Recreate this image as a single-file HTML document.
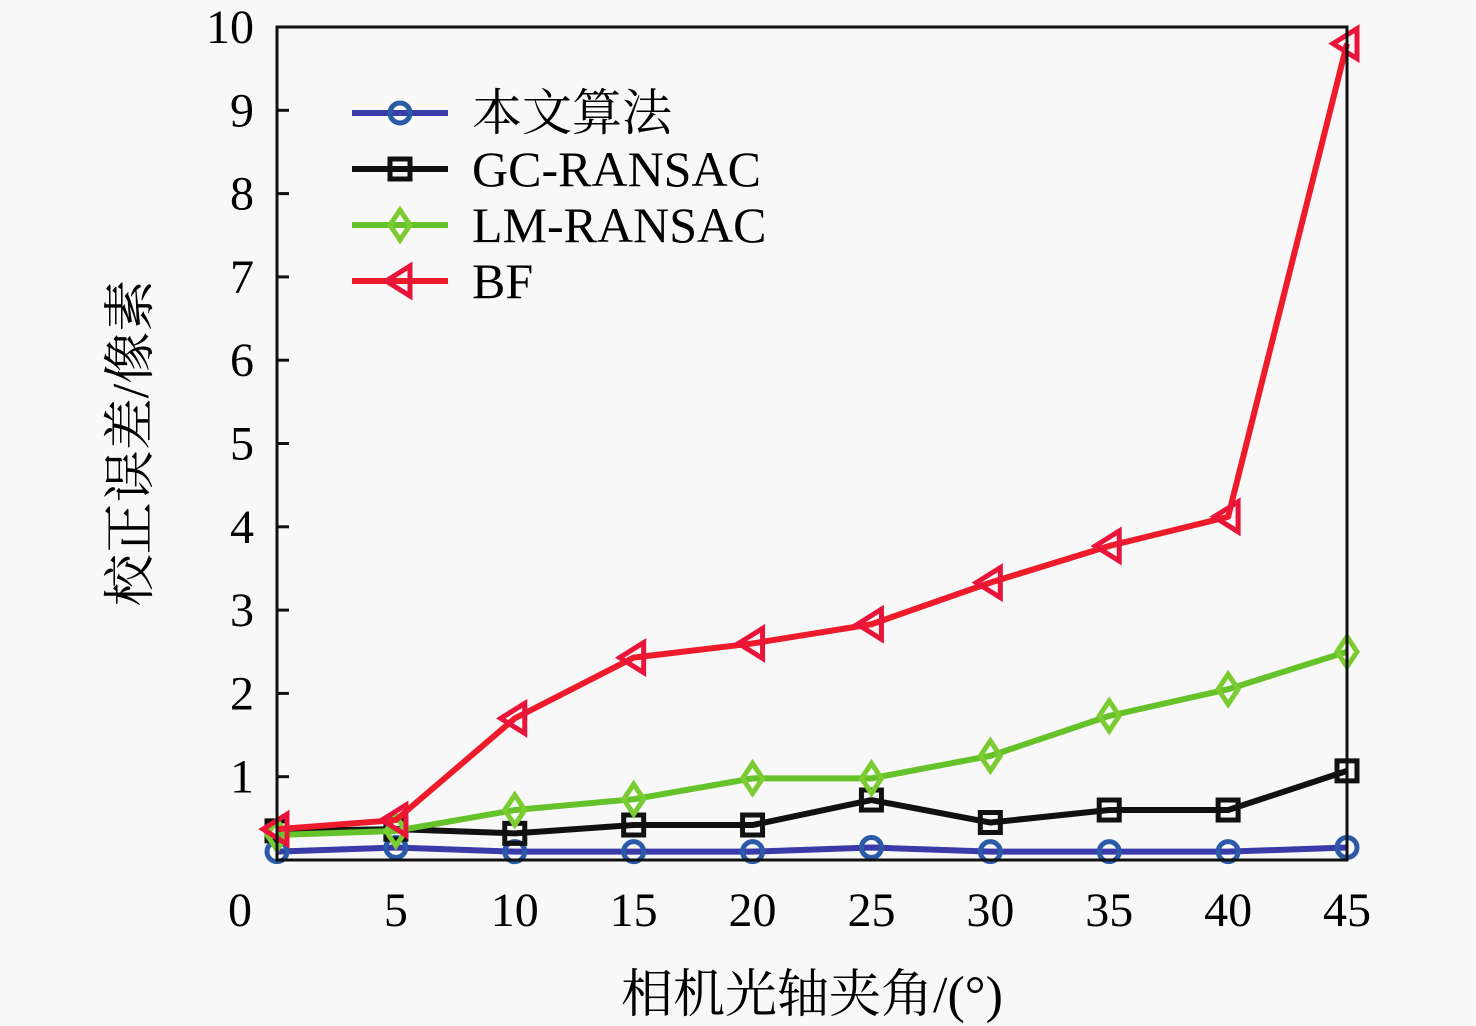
<!DOCTYPE html>
<html><head><meta charset="utf-8"><style>
html,body{margin:0;padding:0;background:#f8f8f8;}
svg{display:block;font-family:"Liberation Serif","Noto Serif CJK SC",serif;}
</style></head><body>
<svg id="chart" width="1476" height="1026" viewBox="0 0 1476 1026">
<rect x="0" y="0" width="1476" height="1026" fill="#f8f8f8"/>
<g id="series"></g>
<rect x="277" y="27" width="1070" height="833" fill="none" stroke="#111" stroke-width="3"/>
<g id="axes"></g>
<text x="240" y="926" font-size="48" text-anchor="middle">0</text>
<text x="812" y="1012" font-size="52" text-anchor="middle">相机光轴夹角/(°)</text>
<text transform="translate(148,443) rotate(-90)" font-size="52" text-anchor="middle">校正误差/像素</text>
<g id="legend"></g>
</svg>
<script>
const categories = [0,5,10,15,20,25,30,35,40,45];
const seriesNames = ["本文算法","GC-RANSAC","LM-RANSAC","BF"];
const oursValues = [0.1,0.15,0.1,0.1,0.1,0.15,0.1,0.1,0.1,0.15];
const gcValues = [0.35,0.37,0.32,0.42,0.42,0.72,0.45,0.6,0.6,1.07];
const lmValues = [0.3,0.35,0.6,0.73,0.98,0.98,1.25,1.73,2.05,2.5];
const bfValues = [0.37,0.48,1.7,2.43,2.6,2.83,3.33,3.77,4.12,9.8];
const yTicks = [1,2,3,4,5,6,7,8,9,10];
const xTicks = [5,10,15,20,25,30,35,40,45];

const NS="http://www.w3.org/2000/svg";
const X0=277,X1=1347,Y0=860,Y1=27;
const xs=v=>X0+(v-0)/(45-0)*(X1-X0);
const ys=v=>Y0-(v/10)*(Y0-Y1);
function mk(tag,attrs,parent){const e=document.createElementNS(NS,tag);for(const k in attrs)e.setAttribute(k,attrs[k]);parent.appendChild(e);return e;}
const axes=document.getElementById('axes');
yTicks.forEach(t=>{
  mk('line',{x1:X0,x2:X0+12,y1:ys(t),y2:ys(t),stroke:'#111','stroke-width':3},axes);
  const tx=mk('text',{x:254,y:ys(t)+16,'font-size':48,'text-anchor':'end'},axes);
  tx.textContent=t;
  
  
});
xTicks.forEach(t=>{
  const tx=mk('text',{x:xs(t),y:926,'font-size':48,'text-anchor':'middle'},axes);
  tx.textContent=t;
  
  
});
const colors=["#3a3aa8","#111111","#66c22a","#ee1c2a"];
const markerCols=["#2a5aa8","#111111","#7acc30","#e8143a"];
const data=[oursValues,gcValues,lmValues,bfValues];
const shapes=["circle","square","diamond","triangle"];
function marker(g,shape,x,y,col){
  let e;
  if(shape==="circle") e=mk('circle',{cx:x,cy:y,r:10,fill:'none',stroke:col,'stroke-width':5},g);
  else if(shape==="square") e=mk('rect',{x:x-10,y:y-10,width:20,height:20,fill:'none',stroke:col,'stroke-width':5},g);
  else if(shape==="diamond") e=mk('polygon',{points:`${x},${y-15} ${x+10},${y} ${x},${y+15} ${x-10},${y}`,fill:'none',stroke:col,'stroke-width':5},g);
  else e=mk('polygon',{points:`${x-14},${y} ${x+10},${y-15} ${x+10},${y+15}`,fill:'none',stroke:col,'stroke-width':5},g);
  
  
}
const sg=document.getElementById('series');
data.forEach((vals,i)=>{
  const g=mk('g',{},sg);
  
  
  const pl=mk('polyline',{points:vals.map((v,j)=>xs(categories[j])+','+ys(v)).join(' '),fill:'none',stroke:colors[i],'stroke-width':6,'stroke-linejoin':'round'},g);
  
  
  vals.forEach((v,j)=>marker(g,shapes[i],xs(categories[j]),ys(v),markerCols[i]));
});
const lg=document.getElementById('legend');
const rowsY=[113,169,225,281];
seriesNames.forEach((n,i)=>{
  const g=mk('g',{},lg);
  
  
  mk('line',{x1:352,x2:448,y1:rowsY[i],y2:rowsY[i],stroke:colors[i],'stroke-width':6},g);
  marker(g,shapes[i],400,rowsY[i],markerCols[i]);
  const t=mk('text',{x:472,y:rowsY[i]+17,'font-size':50},g);
  t.textContent=n;
});
</script>
</body></html>
